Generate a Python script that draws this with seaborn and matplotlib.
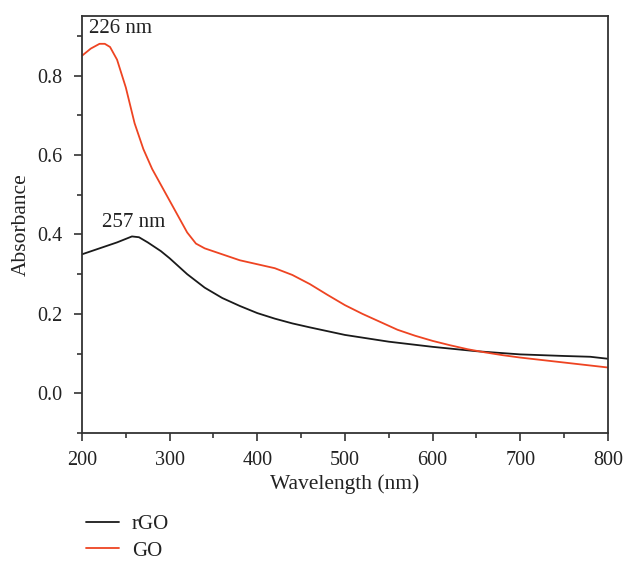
import numpy as np
import pandas as pd
import matplotlib
matplotlib.use("Agg")
import matplotlib.pyplot as plt
import seaborn as sns
from matplotlib.ticker import MultipleLocator

# UV-vis absorbance spectra
wl_go = [200, 210, 220, 226, 232, 240, 250, 260, 270, 280, 290, 300, 310, 320, 330,
         340, 360, 380, 400, 420, 440, 460, 480, 500, 520, 540, 560, 580, 600, 620,
         640, 660, 680, 700, 720, 740, 760, 780, 800]
abs_go = [0.850, 0.868, 0.880, 0.880, 0.872, 0.840, 0.770, 0.680, 0.615, 0.565, 0.525,
          0.485, 0.445, 0.405, 0.377, 0.365, 0.350, 0.335, 0.325, 0.315, 0.298, 0.275,
          0.248, 0.222, 0.200, 0.180, 0.160, 0.145, 0.132, 0.121, 0.111, 0.103, 0.096,
          0.090, 0.085, 0.080, 0.075, 0.070, 0.065]

wl_rgo = [200, 220, 240, 257, 265, 275, 290, 300, 320, 340, 360, 380, 400, 420, 440,
          460, 500, 550, 600, 650, 700, 750, 780, 800]
abs_rgo = [0.350, 0.365, 0.380, 0.395, 0.393, 0.380, 0.358, 0.340, 0.300, 0.266, 0.240,
           0.220, 0.202, 0.188, 0.176, 0.166, 0.147, 0.130, 0.117, 0.106, 0.098, 0.094,
           0.092, 0.087]

peak_labels = [("226 nm", 208, 0.918), ("257 nm", 259, 0.430)]

df = pd.concat([
    pd.DataFrame({"Wavelength": wl_rgo, "Absorbance": abs_rgo, "Sample": "rGO"}),
    pd.DataFrame({"Wavelength": wl_go, "Absorbance": abs_go, "Sample": "GO"}),
])

sns.set_style("ticks")
plt.rcParams["font.family"] = ["Liberation Serif", "DejaVu Serif"]

fig = plt.figure(figsize=(6.26, 5.62), dpi=100)
ax = fig.add_axes([0.131, 0.2295, 0.840, 0.742])

sns.lineplot(data=df, x="Wavelength", y="Absorbance", hue="Sample",
             palette={"rGO": "#1a1a1a", "GO": "#ee4422"}, linewidth=1.3,
             ax=ax, legend=True, sort=False)

ax.set_xlim(200, 800)
ax.set_ylim(-0.1, 0.95)
ax.xaxis.set_major_locator(MultipleLocator(100))
ax.xaxis.set_minor_locator(MultipleLocator(50))
ax.yaxis.set_major_locator(MultipleLocator(0.2))
ax.yaxis.set_minor_locator(MultipleLocator(0.1))
ax.yaxis.set_major_formatter(matplotlib.ticker.FormatStrFormatter("%.1f"))
ax.tick_params(which="major", direction="out", length=6, width=1.1, labelsize=14.5,
               colors="#222222", pad=7)
ax.tick_params(axis="y", which="major", pad=8)
ax.tick_params(which="minor", direction="out", length=3.5, width=1.1, colors="#222222")
ax.tick_params(top=False, right=False, which="both")
for s in ax.spines.values():
    s.set_color("#333333")
    s.set_linewidth(1.3)

ax.set_xlabel("Wavelength (nm)", fontsize=15.5, color="#222222", labelpad=3)
ax.set_ylabel("Absorbance", fontsize=15.5, color="#222222", labelpad=5)

for txt, x, y in peak_labels:
    ax.text(x, y, txt, fontsize=15, color="#222222", ha="left" if x < 220 else "center",
            va="center")

leg = ax.legend(loc="upper left", bbox_to_anchor=(-0.008, -0.176), frameon=False,
                fontsize=15, handlelength=1.6, handletextpad=0.6, labelspacing=0.32,
                borderaxespad=0)
for t in leg.get_texts():
    t.set_color("#222222")

fig.savefig("out.png", dpi=100)
